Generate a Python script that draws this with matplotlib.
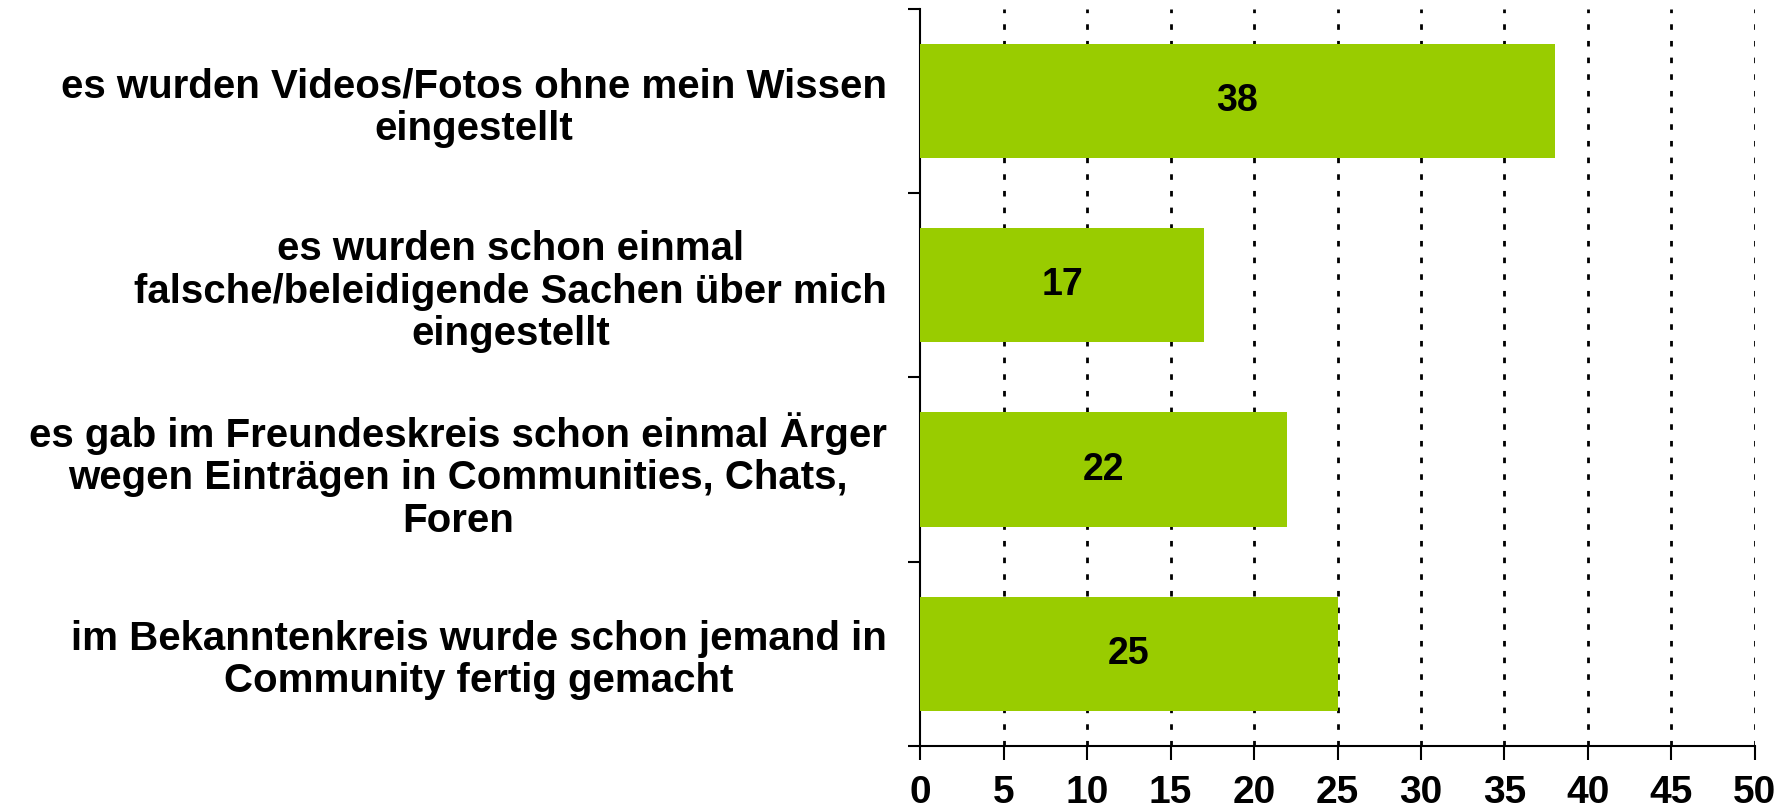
import matplotlib
matplotlib.use("Agg")
import matplotlib.pyplot as plt
import numpy as np

categories = [
    "es wurden Videos/Fotos ohne mein Wissen\neingestellt",
    "es wurden schon einmal\nfalsche/beleidigende Sachen über mich\neingestellt",
    "es gab im Freundeskreis schon einmal Ärger\nwegen Einträgen in Communities, Chats,\nForen",
    "im Bekanntenkreis wurde schon jemand in\nCommunity fertig gemacht",
]
values = [38, 17, 22, 25]
xticks = [0, 5, 10, 15, 20, 25, 30, 35, 40, 45, 50]

plt.rcParams['font.family'] = ['Liberation Sans', 'DejaVu Sans']

fig = plt.figure(figsize=(17.87, 8.10), dpi=100)
ax = fig.add_axes([0.515, 0.079, 0.467, 0.910])

y = np.arange(len(categories))
ax.barh(y, values, height=0.62, color='#99CC00', zorder=3)
for yi, v in zip(y, values):
    ax.text(v / 2, yi, str(v), ha='center', va='center', fontsize=27,
            fontweight='bold', color='black', zorder=4)

ax.set_xlim(0, 50)
ax.set_ylim(len(categories) - 0.5, -0.5)
ax.set_xticks(xticks)
ax.set_xticklabels([str(t) for t in xticks], fontsize=28, fontweight='bold')
ax.set_yticks(y)
ax.set_yticklabels(categories, fontsize=29, fontweight='bold', ma='center',
                   linespacing=1.15)
ax.set_yticks(np.arange(-0.5, len(categories), 1), minor=True)

ax.tick_params(axis='y', which='major', length=0, pad=24)
ax.tick_params(axis='y', which='minor', length=9, width=1.5, direction='out')
ax.tick_params(axis='x', which='major', length=10, width=1.5, direction='out', pad=11)

for s in ['top', 'right']:
    ax.spines[s].set_visible(False)
for s in ['left', 'bottom']:
    ax.spines[s].set_linewidth(1.5)

for t in xticks[1:]:
    ax.axvline(t, color='black', linestyle=(0, (2, 4)), linewidth=2, zorder=1)

fig.savefig('out.png', dpi=100)
